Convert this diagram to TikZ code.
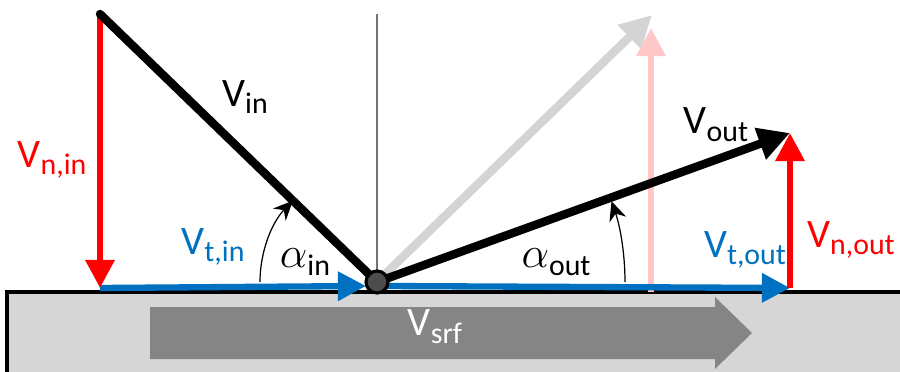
\documentclass[tikz,border=0pt]{standalone}
\usepackage{fontspec}
\setmainfont{Carlito}
\usetikzlibrary{arrows.meta}
\definecolor{vblue}{RGB}{0,112,192}
\definecolor{vred}{RGB}{255,0,0}
\colorlet{srfgrey}{black!16}
\colorlet{srfarrow}{black!48}
\colorlet{ghostgrey}{black!17}
\colorlet{ghostred}{red!22}
\newcommand{\vlab}[2]{#1\raisebox{-0.4ex}{\fontsize{17}{19}\selectfont #2}}

\begin{document}
\begin{tikzpicture}[x=0.02cm, y=-0.02cm,
    lbl/.style={font=\fontsize{23}{27}\selectfont, inner sep=0pt},
    vec/.style={line width=4.8pt, -{Triangle[length=18pt,width=18pt]}},
    comp/.style={line width=3.6pt, -{Triangle[length=16pt,width=16pt]}},
    anglearc/.style={line width=0.7pt, -{Stealth[length=11pt,width=10pt]}}]
    \useasboundingbox (0,0) rectangle (900,372);
    \clip (0,0) rectangle (900,372);

    % surface block and its velocity
    \draw[fill=srfgrey, line width=1.8pt] (7,292) rectangle (910,380);
    \fill[srfarrow] (150,307) -- (715,307) -- (715,297) -- (752,333) -- (715,369) -- (715,359) -- (150,359) -- cycle;
    \node[lbl, text=white] (vsrf) at (435,327) {\vlab{V}{srf}};

    % key points
    \coordinate (P) at (377,282);
    \coordinate (Vtop) at (100,14);
    \coordinate (Vfoot) at (100,288);
    \coordinate (Pin) at (366,286);
    \coordinate (Pout) at (384,286);
    \coordinate (Vend) at (790,133);
    \coordinate (Vbase) at (790,288);
    \coordinate (Gend) at (652,15);
    \coordinate (Gbase) at (651,292);
    \coordinate (Gtop) at (651,28);
    \coordinate (Ntop) at (377,14);

    % mirrored (ghost) outgoing vector
    \draw[vec, ghostgrey] (P) -- (Gend);
    \draw[comp, ghostred] (Gbase) -- (Gtop);

    % surface normal
    \draw[black!55, line width=0.9pt] (Ntop) -- (P);

    % tangential components
    \draw[comp, vblue] (Vfoot) -- (Pin);
    \draw[comp, vblue] (Pout) -- (Vbase);

    % normal components
    \draw[comp, vred] (Vtop) -- (Vfoot);
    \draw[comp, vred] (Vbase) -- (Vend);

    % incoming and outgoing vectors
    \draw[line width=4.8pt, line cap=round] (Vtop) -- (P);
    \draw[vec] (P) -- (Vend);
    \draw[fill=black!70, line width=1.8pt] (P) circle (11);

    % angles
    \draw[anglearc] ([shift={(180:117)}]P) arc[start angle=180, end angle=224, radius=117];
    \draw[anglearc] ([shift={(0:248)}]P) arc[start angle=0, end angle=-19, radius=248];

    % labels
    \node[lbl] (vin) at (245,97) {\vlab{V}{in}};
    \node[lbl] (vout) at (716,125) {\vlab{V}{out}};
    \node[lbl, text=vred] (vnin) at (52,160) {\vlab{V}{n,in}};
    \node[lbl, text=vred] (vnout) at (851,240) {\vlab{V}{n,out}};
    \node[lbl, text=vblue] (vtin) at (213,247) {\vlab{V}{t,in}};
    \node[lbl, text=vblue] (vtout) at (745,250) {\vlab{V}{t,out}};
    \node[lbl] (ain) at (305,262) {\vlab{$\alpha$}{in}};
    \node[lbl] (aout) at (556,262) {\vlab{$\alpha$}{out}};
\end{tikzpicture}
\end{document}
